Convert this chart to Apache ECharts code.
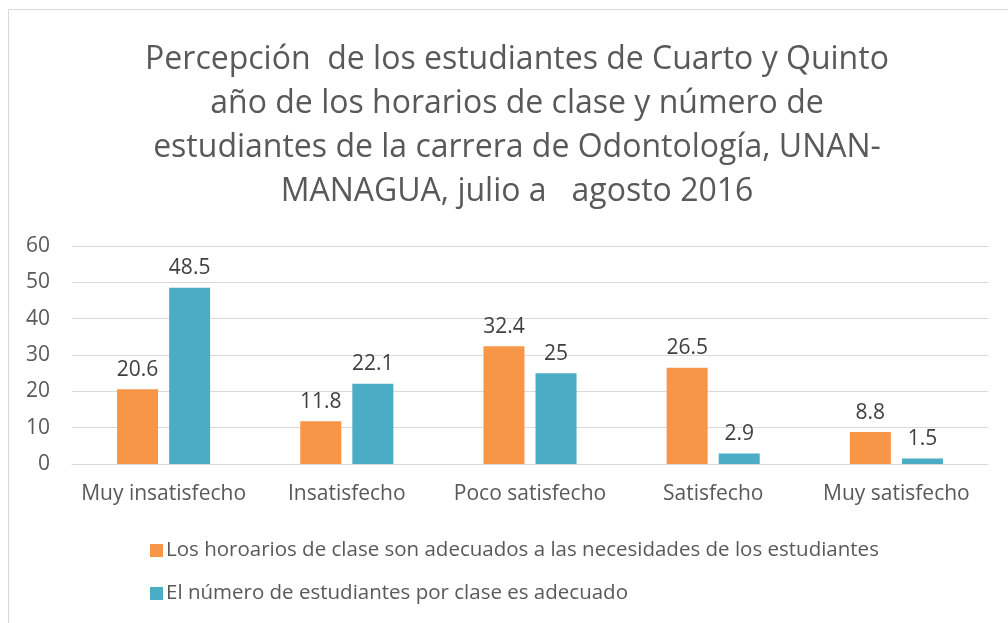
<!DOCTYPE html>
<html>
<head>
<meta charset="utf-8">
<script src="https://cdn.jsdelivr.net/npm/echarts@6/dist/echarts.min.js"></script>
<style>
html,body{margin:0;padding:0;background:#fff;}
#c{width:1008px;height:623px;}
</style>
</head>
<body>
<div id="c"></div>
<script>
const titleText = 'Percepción  de los estudiantes de Cuarto y Quinto\naño de los horarios de clase y número de\nestudiantes de la carrera de Odontología, UNAN-\nMANAGUA, julio a   agosto 2016';
const categories = ['Muy insatisfecho', 'Insatisfecho', 'Poco satisfecho', 'Satisfecho', 'Muy satisfecho'];
const seriesNames = ['Los horoarios de clase son adecuados a las necesidades de los estudiantes', 'El número de estudiantes por clase es adecuado'];
const horarios = [20.6, 11.8, 32.4, 26.5, 8.8];
const numeroEst = [48.5, 22.1, 25, 2.9, 1.5];
const yTicks = [0, 10, 20, 30, 40, 50, 60];

const FONT = '"Open Sans", sans-serif';
const chart = echarts.init(document.getElementById('c'), null, {renderer: 'canvas'});
const labelStyle = {show: true, position: 'top', distance: 9, color: '#404040', fontSize: 21, fontFamily: FONT};
chart.setOption({
  animation: false,
  backgroundColor: '#fff',
  textStyle: {fontFamily: FONT},
  title: {
    text: titleText,
    left: 512, top: 33, textAlign: 'center',
    textStyle: {fontSize: 32, lineHeight: 44, fontWeight: 'normal', color: '#595959', fontFamily: FONT}
  },
  graphic: [
    {type: 'line', shape: {x1: 8.5, y1: 9.5, x2: 1008, y2: 9.5}, style: {stroke: '#d9d9d9', lineWidth: 1}},
    {type: 'line', shape: {x1: 8.5, y1: 9.5, x2: 8.5, y2: 623}, style: {stroke: '#d9d9d9', lineWidth: 1}}
  ],
  legend: {
    orient: 'vertical', left: 145, top: 535,
    itemWidth: 13, itemHeight: 13, itemGap: 22,
    icon: 'rect',
    textStyle: {fontSize: 20.5, lineHeight: 20, color: '#595959', fontFamily: FONT, padding: [0, 0, 0, -2]},
    data: seriesNames
  },
  grid: {left: 72, right: 20, top: 246, height: 218, containLabel: false},
  xAxis: {
    type: 'category', data: categories,
    axisLine: {show: true, lineStyle: {color: '#d9d9d9', width: 1}},
    axisTick: {show: false},
    axisLabel: {color: '#595959', fontSize: 21, margin: 20, fontFamily: FONT, interval: 0}
  },
  yAxis: {
    type: 'value', min: yTicks[0], max: yTicks[yTicks.length - 1], interval: 10,
    axisLine: {show: false}, axisTick: {show: false},
    axisLabel: {color: '#595959', fontSize: 21, margin: 22, fontFamily: FONT},
    splitLine: {lineStyle: {color: '#d9d9d9', width: 1}}
  },
  series: [
    {name: seriesNames[0], type: 'bar', data: horarios, barWidth: 41, barGap: '27%',
     itemStyle: {color: '#F79646'}, label: labelStyle},
    {name: seriesNames[1], type: 'bar', data: numeroEst, barWidth: 41, barGap: '27%',
     itemStyle: {color: '#4BACC6'}, label: labelStyle}
  ]
});
</script>
</body>
</html>
